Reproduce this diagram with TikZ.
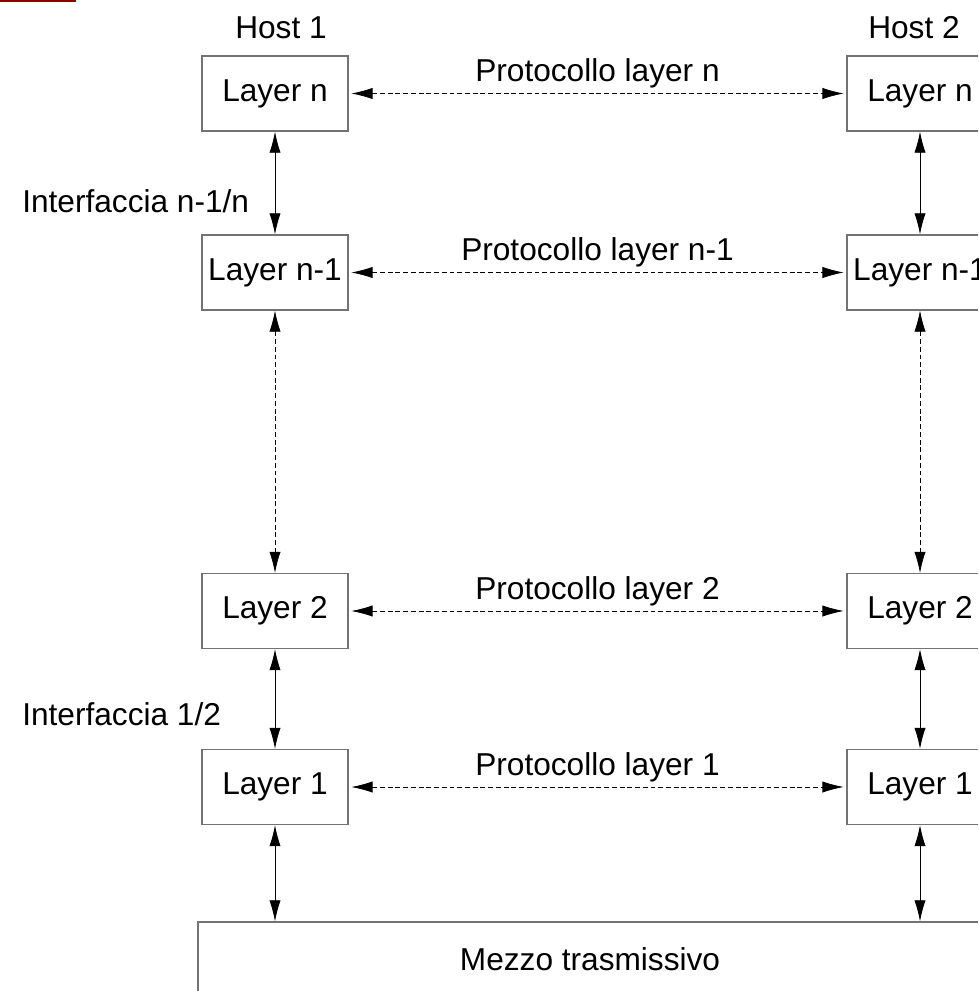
\documentclass[tikz,border=0pt]{standalone}
\usepackage{fontspec}
\setmainfont{Liberation Sans}
\usetikzlibrary{arrows.meta,positioning}
\definecolor{barred}{RGB}{139,0,0}

\begin{document}
\begin{tikzpicture}[
font=\fontsize{22.5}{27}\selectfont,
>={Latex[length=15pt,width=8pt]},
layernode/.style={rectangle, draw=black!55, line width=0.9pt, minimum width=3.65cm, minimum height=1.875cm, inner sep=1pt},
protoarrow/.style={<->, dash pattern=on 3.5pt off 2pt, draw=black, line width=0.5pt, shorten <=2pt, shorten >=2pt},
ifarrow/.style={<->, line width=0.6pt}
]
    \useasboundingbox (0,0) rectangle (24.45,-24.775);
    \clip (0,0) rectangle (24.45,-24.775);
    \fill[barred] (0,0) rectangle (1.9,-0.06);

    % host 1
    \node[layernode] (l1n) at (6.875,-2.3375){Layer n};
    \node[layernode] (l1m) at (6.875,-6.8125){Layer n-1};
    \node[layernode] (l12) at (6.875,-15.275){Layer 2};
    \node[layernode] (l11) at (6.875,-19.675){Layer 1};
    \node[above=0.3cm of l1n, xshift=0.15cm] (h1) {Host 1};

    % host 2
    \node[layernode] (l2n) at (23,-2.3375){Layer n};
    \node[layernode] (l2m) at (23,-6.8125){Layer n-1};
    \node[layernode] (l22) at (23,-15.275){Layer 2};
    \node[layernode] (l21) at (23,-19.675){Layer 1};
    \node[above=0.3cm of l2n, xshift=-0.15cm] (h2) {Host 2};

    \node[layernode, minimum width=19.6cm, minimum height=1.85cm] (mezzo) at (14.75,-23.975){Mezzo trasmissivo};

    \node[anchor=base west, inner sep=0pt] (if1) at (0.55,-5.325){Interfaccia n-1/n};
    \node[anchor=base west, inner sep=0pt] (if2) at (0.55,-18.125){Interfaccia 1/2};

    \draw[protoarrow] (l1n) --node[above] (pn){Protocollo layer n} (l2n);
    \draw[protoarrow] (l1m) --node[above] (pm){Protocollo layer n-1} (l2m);
    \draw[protoarrow] (l12) --node[above] (p2){Protocollo layer 2} (l22);
    \draw[protoarrow] (l11) --node[above] (p1){Protocollo layer 1} (l21);

    \draw[ifarrow] (l1n) -- (l1m);
    \draw[protoarrow, shorten <=0pt, shorten >=0pt] (l1m) -- (l12);
    \draw[ifarrow] (l12) -- (l11);
    \draw[ifarrow] (l11) -- (l11 |- mezzo.north);

    \draw[ifarrow] (l2n) -- (l2m);
    \draw[protoarrow, shorten <=0pt, shorten >=0pt] (l2m) -- (l22);
    \draw[ifarrow] (l22) -- (l21);
    \draw[ifarrow] (l21) -- (l21 |- mezzo.north);
\end{tikzpicture}
\end{document}
